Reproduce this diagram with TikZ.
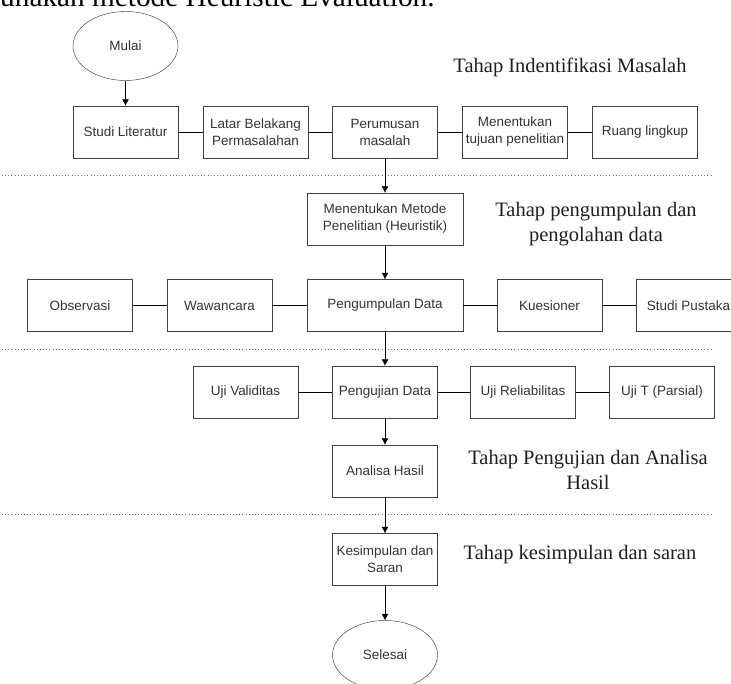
\documentclass[tikz,border=0pt]{standalone}
\usepackage{fontspec}
\setmainfont{Liberation Serif}
\setsansfont{Liberation Sans}
\usetikzlibrary{shapes,arrows.meta,positioning}
\definecolor{boxgray}{HTML}{404040}
\definecolor{txtgray}{HTML}{333333}
\tikzset{
    -{Latex[length=1.9mm,width=2mm]},auto,line width=0.8pt,
    state/.style ={rectangle, draw=boxgray, text=txtgray, minimum width=3.15cm, minimum height=1.56cm,
                   inner sep=1pt, align=center, font=\sffamily\fontsize{11.5}{14.5}\selectfont},
    wide/.style = {minimum width=4.68cm},
    term/.style = {state, ellipse, minimum width=3.15cm, minimum height=2.07cm},
    phase/.style = {align=center, text=black!88, font=\fontsize{17.5}{21.3}\selectfont},
    plain/.style = {-},
    sep/.style = {-, dotted, draw=black!55, line width=0.7pt}
}

\begin{document}
\begin{tikzpicture}[x=0.03cm,y=-0.03cm]
      \useasboundingbox (0,0) rectangle (731,684);
      \node[anchor=base west, inner sep=0pt, font=\fontsize{25}{28}\selectfont] (0) at (0,7) {unakan metode Heuristic Evaluation.};

      \node[term] (1) at (125.5,46) {Mulai};
      \node[state] (2) at (125.5,132) {Studi Literatur};
      \node[state] (3) at (255.5,132) {Latar Belakang\\Permasalahan};
      \node[state] (4) at (385,132) {Perumusan\\masalah};
      \node[state] (5) at (515,132) {Menentukan\\tujuan penelitian};
      \node[state] (6) at (645,132) {Ruang lingkup};
      \node[state,wide] (7) at (385,219) {Menentukan Metode\\Penelitian (Heuristik)};
      \node[state] (8) at (80,305.5) {Observasi};
      \node[state] (9) at (219.5,305.5) {Wawancara};
      \node[state,wide] (10) at (385,305.5) {Pengumpulan Data};
      \node[state] (11) at (549.5,305.5) {Kuesioner};
      \node[state] (12) at (688.5,305.5) {Studi Pustaka};
      \node[state] (13) at (245.5,392) {Uji Validitas};
      \node[state] (14) at (385,392) {Pengujian Data};
      \node[state] (15) at (523,392) {Uji Reliabilitas};
      \node[state] (16) at (662,392) {Uji T (Parsial)};
      \node[state] (17) at (385,471) {Analisa Hasil};
      \node[state] (18) at (385,559.5) {Kesimpulan dan\\Saran};
      \node[term] (19) at (385,655) {Selesai};

      \node[phase] (p1) at (570,67) {Tahap Indentifikasi Masalah};
      \node[phase] (p2) at (596,224.5) {Tahap pengumpulan dan\\pengolahan data};
      \node[phase] (p3) at (588,470) {Tahap Pengujian dan Analisa\\Hasil};
      \node[phase] (p4) at (580,555) {Tahap kesimpulan dan saran};

      % garis pemisah tahap
      \draw[sep] (2,175) -- (712,175);
      \draw[sep] (2,349) -- (712,349);
      \draw[sep] (2,514) -- (712,514);

      \path (1) edge (2);
      \path (2) edge[plain] (3);
      \path (3) edge[plain] (4);
      \path (4) edge[plain] (5);
      \path (5) edge[plain] (6);
      \path (4) edge (7);
      \path (7) edge (10);

      \path (8) edge[plain] (9);
      \path (9) edge[plain] (10);
      \path (10) edge[plain] (11);
      \path (11) edge[plain] (12);
      \path (10) edge (14);

      \path (13) edge[plain] (14);
      \path (14) edge[plain] (15);
      \path (15) edge[plain] (16);
      \path (14) edge (17);
      \path (17) edge (18);
      \path (18) edge (19);
\end{tikzpicture}
\end{document}
